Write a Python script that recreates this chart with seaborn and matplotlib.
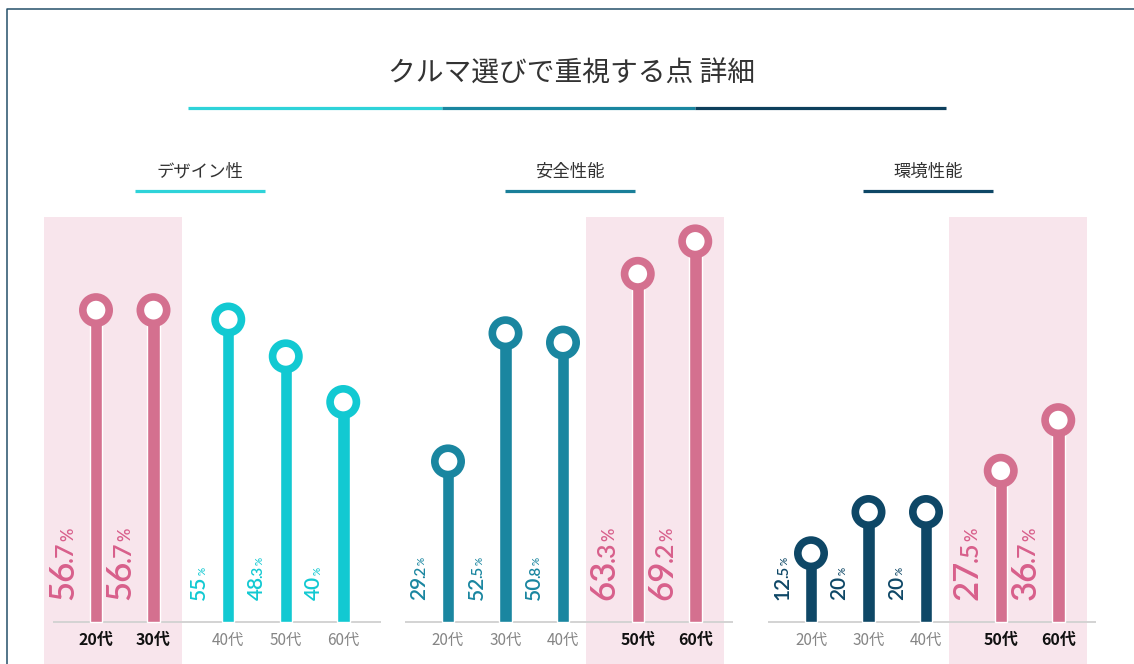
import numpy as np
import pandas as pd
import matplotlib
matplotlib.use("Agg")
import matplotlib.pyplot as plt
import seaborn as sns
from matplotlib.lines import Line2D

# ---------------- data ----------------
title = "クルマ選びで重視する点 詳細"
panel_titles = ["デザイン性", "安全性能", "環境性能"]
age_labels = ["20代", "30代", "40代", "50代", "60代"]
design_vals = [56.7, 56.7, 55, 48.3, 40]
safety_vals = [29.2, 52.5, 50.8, 63.3, 69.2]
eco_vals = [12.5, 20, 20, 27.5, 36.7]
design_hl = [True, True, False, False, False]
safety_hl = [False, False, False, True, True]
eco_hl = [False, False, False, True, True]

# ---------------- style ----------------
sns.set_theme(style="white")
plt.rcParams["font.family"] = ["Lato", "Noto Sans CJK JP", "DejaVu Sans"]
CJK = ["Noto Sans CJK JP", "DejaVu Sans"]

PINK = "#d4708f"
PINK_TXT = "#d85f8b"
BAND = "#f8e5ec"
panel_colors = ["#12c9d2", "#1a86a0", "#0e4766"]

W, H = 1134, 664
fig = plt.figure(figsize=(W / 100, H / 100), dpi=100)
fig.patch.set_facecolor("white")

def fx(px):
    return px / W

def fy(py):
    return 1 - py / H

U = 57.5            # px per x unit
S = 5.5             # px per percent
base_py = 622
ax_top_py = 200
ylim = (-(H - base_py) / S, (base_py - ax_top_py) / S)
band_top = (base_py - 217) / S

bar0_px = [96, 448, 811]
panels = [(design_vals, design_hl), (safety_vals, safety_hl), (eco_vals, eco_hl)]

for k, (vals, hl) in enumerate(panels):
    # positions: extra gap where highlighting changes
    pos = []
    shift = 0.0
    for i in range(len(vals)):
        if i > 0 and hl[i] != hl[i - 1]:
            shift += 0.3
        pos.append(i + shift)
    cols = [PINK if h else panel_colors[k] for h in hl]

    left_px = bar0_px[k] - 0.9 * U
    ax = fig.add_axes([fx(left_px), 0, 6.1 * U / W, (H - ax_top_py) / H])
    ax.set_facecolor("none")

    df = pd.DataFrame({"pos": pos, "val": vals, "col": cols})
    sns.barplot(data=df, x="pos", y="val", hue="col",
                palette={c: c for c in set(cols)}, native_scale=True,
                width=12.5 / U, dodge=False, legend=False, saturation=1,
                ax=ax, zorder=2)
    sns.scatterplot(data=df, x="pos", y="val", ax=ax, s=360, color="white",
                    edgecolor=cols, linewidth=5.5, zorder=4, legend=False)

    # highlight band
    hi = [p for p, h in zip(pos, hl) if h]
    ax.fill_between([min(hi) - 0.9, max(hi) + 0.5], ylim[0], band_top,
                    color=BAND, zorder=0, lw=0)

    # baseline
    ax.plot([-0.75, 4.95], [0, 0], color="#d3d3d3", lw=1.4, zorder=1,
            solid_capstyle="butt")

    # value labels
    for p, v, h, c in zip(pos, vals, hl, cols):
        s = f"{v:g}"
        if "." in s:
            ip, dp = s.split(".")
            dp = "." + dp
        else:
            ip, dp = s, ""
        tc = PINK_TXT if h else c
        fs = 25 if h else 15
        lx = p - 0.4
        t1 = ax.text(lx, 4.0, ip, rotation=90, rotation_mode="anchor",
                     ha="left", va="baseline", fontsize=fs, color=tc,
                     fontweight="semibold", zorder=5)
        prev = t1
        if dp:
            prev = ax.annotate(dp, xy=(lx, 1), xycoords=("data", prev),
                               xytext=(0, -1.5), textcoords="offset points",
                               rotation=90, rotation_mode="anchor",
                               ha="left", va="baseline", fontsize=fs * 0.72,
                               fontweight="semibold", color=tc, zorder=5)
        ax.annotate("%", xy=(lx, 1), xycoords=("data", prev),
                    xytext=(0, 0.5), textcoords="offset points",
                    rotation=90, rotation_mode="anchor",
                    ha="left", va="baseline", fontsize=fs * 0.48,
                    fontweight="semibold", color=tc, zorder=5)

    # age labels
    for p, lab, h in zip(pos, age_labels, hl):
        ax.text(p, -18 / S, lab, ha="center", va="center",
                fontsize=11.5 if h else 11,
                fontweight="bold" if h else "normal",
                color="#111111" if h else "#858585", family=CJK, zorder=5)

    ax.set_xlim(-0.9, 5.2)
    ax.set_ylim(*ylim)
    ax.axis("off")

# ---------------- titles & decorations ----------------
fig.text(fx(572), fy(74), title, ha="center", va="center", fontsize=20,
         color="#333333", family=CJK)
seg = [(188, 442, "#2fd3d9"), (442, 695, "#1a86a0"), (695, 946, "#0d3f5c")]
for x0, x1, c in seg:
    fig.add_artist(Line2D([fx(x0), fx(x1)], [fy(108), fy(108)], color=c,
                          lw=2.3, solid_capstyle="butt"))

sub_cx = [200, 570, 928]
for k, (t, cx) in enumerate(zip(panel_titles, sub_cx)):
    fig.text(fx(cx), fy(172), t, ha="center", va="center", fontsize=12.5,
             color="#333333", family=CJK)
    c = ["#2fd3d9", "#1a7f99", "#0e4766"][k]
    fig.add_artist(Line2D([fx(cx - 65), fx(cx + 65)], [fy(191), fy(191)],
                          color=c, lw=2.3, solid_capstyle="butt"))

# frame (left & top)
fig.add_artist(Line2D([fx(7), fx(7), fx(W + 5)], [fy(H + 5), fy(9), fy(9)],
                      color="#24506a", lw=1.1))

fig.savefig("out.png", dpi=100, facecolor="white")
